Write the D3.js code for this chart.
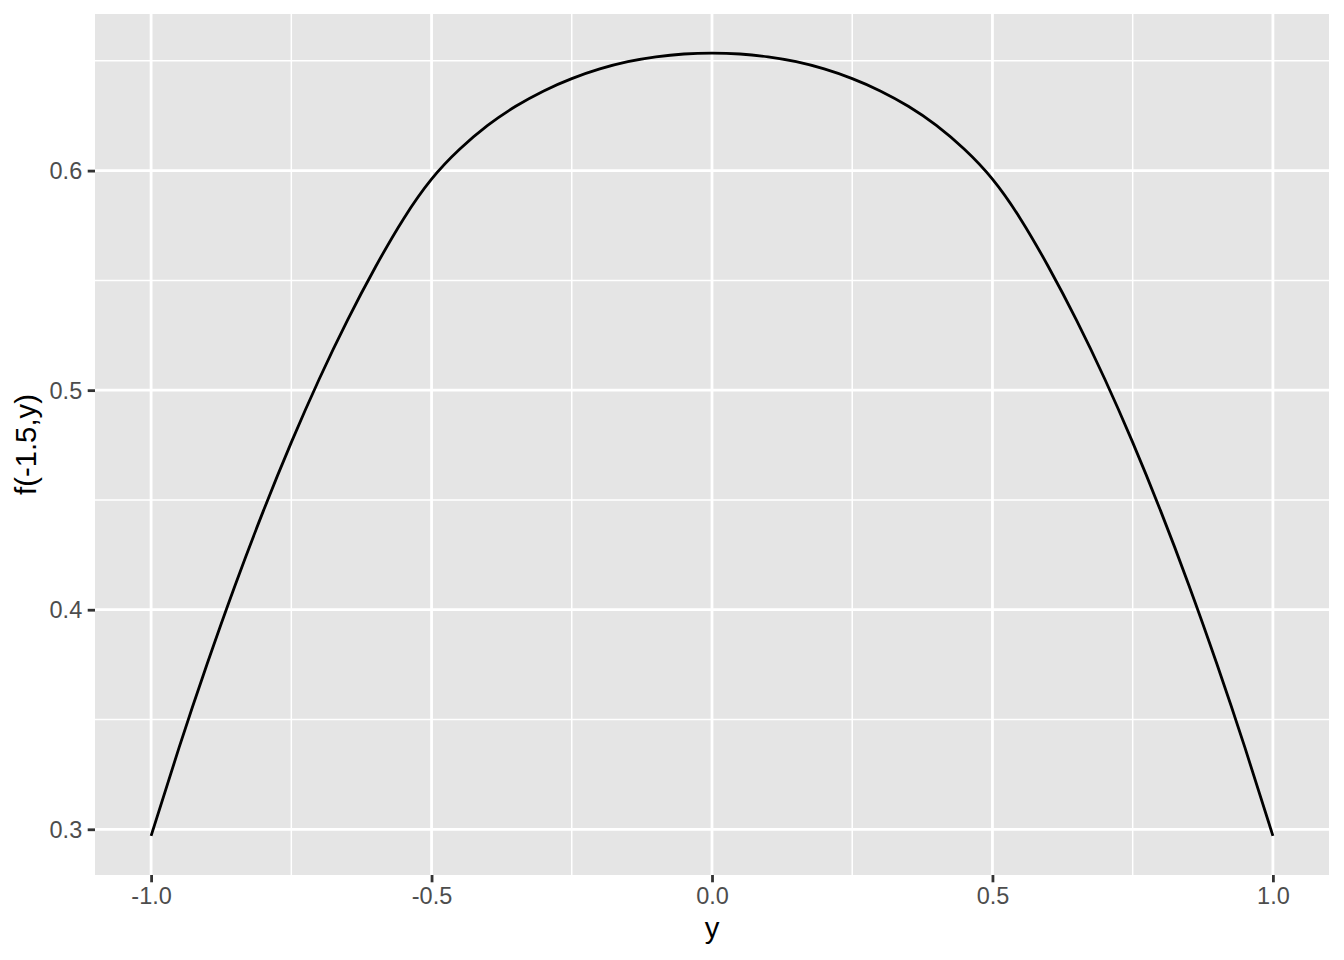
<!DOCTYPE html>
<html>
<head>
<meta charset="utf-8">
<script src="https://cdn.jsdelivr.net/npm/d3@7"></script>
<style>
	body { margin: 0; background: #fff; }
	svg { display: block; font-family: "Liberation Sans", Arial, Helvetica, sans-serif; }
</style>
</head>
<body>
<svg id="chart" width="1344" height="960"></svg>
<script>
"use strict";

// values, y from -1 to 1 in steps of 0.05
var y_values = [-1.00,-0.95,-0.90,-0.85,-0.80,-0.75,-0.70,-0.65,-0.60,-0.55,-0.50,-0.45,-0.40,-0.35,-0.30,-0.25,-0.20,-0.15,-0.10,-0.05,
	0.00,0.05,0.10,0.15,0.20,0.25,0.30,0.35,0.40,0.45,0.50,0.55,0.60,0.65,0.70,0.75,0.80,0.85,0.90,0.95,1.00];
var f_values = [0.2970,0.3373,0.3754,0.4113,0.4449,0.4762,0.5052,0.5318,0.5561,0.5780,0.5961,0.6097,0.6206,0.6293,0.6363,0.6419,0.6463,0.6496,0.6518,0.6531,
	0.6535,0.6531,0.6518,0.6496,0.6463,0.6419,0.6363,0.6293,0.6206,0.6097,0.5961,0.5780,0.5561,0.5318,0.5052,0.4762,0.4449,0.4113,0.3754,0.3373,0.2970];

var x_ticks = [-1.0, -0.5, 0.0, 0.5, 1.0],
	x_minor = [-0.75, -0.25, 0.25, 0.75],
	y_ticks = [0.3, 0.4, 0.5, 0.6],
	y_minor = [0.35, 0.45, 0.55, 0.65];

var x_title = "y",
	y_title = "f(-1.5,y)";

var width = 1344,
	height = 960,
	margin = { top: 14, right: 15, bottom: 85, left: 95 };

var svg = d3.select("#chart");

// ggplot style 5% expansion on both axes
function expand(ext) {
	var pad = (ext[1] - ext[0]) * 0.05;
	return [ext[0] - pad, ext[1] + pad];
}

var x = d3.scaleLinear()
	.domain(expand(d3.extent(y_values)))
	.range([margin.left, width - margin.right]);

var y = d3.scaleLinear()
	.domain(expand(d3.extent(f_values)))
	.range([height - margin.bottom, margin.top]);

var data = y_values.map(function(d, i) { return { x: d, f: f_values[i] }; });

//panel background
svg.append("rect")
	.attr("x", margin.left)
	.attr("y", margin.top)
	.attr("width", width - margin.left - margin.right)
	.attr("height", height - margin.top - margin.bottom)
	.attr("fill", "#E5E5E5");

//grid lines, minor first
var grid = svg.append("g").attr("stroke", "#fff");

grid.selectAll(".vminor").data(x_minor).enter().append("line")
	.attr("x1", function(d) { return x(d); }).attr("x2", function(d) { return x(d); })
	.attr("y1", margin.top).attr("y2", height - margin.bottom)
	.attr("stroke-width", 1.5);

grid.selectAll(".hminor").data(y_minor).enter().append("line")
	.attr("y1", function(d) { return y(d); }).attr("y2", function(d) { return y(d); })
	.attr("x1", margin.left).attr("x2", width - margin.right)
	.attr("stroke-width", 1.5);

grid.selectAll(".vmajor").data(x_ticks).enter().append("line")
	.attr("x1", function(d) { return x(d); }).attr("x2", function(d) { return x(d); })
	.attr("y1", margin.top).attr("y2", height - margin.bottom)
	.attr("stroke-width", 2.8);

grid.selectAll(".hmajor").data(y_ticks).enter().append("line")
	.attr("y1", function(d) { return y(d); }).attr("y2", function(d) { return y(d); })
	.attr("x1", margin.left).attr("x2", width - margin.right)
	.attr("stroke-width", 2.8);

//the curve
var line = d3.line()
	.x(function(d) { return x(d.x); })
	.y(function(d) { return y(d.f); })
	.curve(d3.curveNatural);

svg.append("path")
	.datum(data)
	.attr("d", line)
	.attr("fill", "none")
	.attr("stroke", "#000")
	.attr("stroke-width", 2.8);

//axes, plain hyphen for negatives like R does
var fmt = function(d) { return d3.format(".1f")(d).replace("\u2212", "-"); };

var xAxis = d3.axisBottom(x)
	.tickValues(x_ticks)
	.tickFormat(fmt)
	.tickSize(7.3)
	.tickPadding(5);

var yAxis = d3.axisLeft(y)
	.tickValues(y_ticks)
	.tickFormat(fmt)
	.tickSize(7.3)
	.tickPadding(5.5);

var gx = svg.append("g")
	.attr("transform", "translate(0," + (height - margin.bottom) + ")")
	.call(xAxis);

var gy = svg.append("g")
	.attr("transform", "translate(" + margin.left + ",0)")
	.call(yAxis);

[gx, gy].forEach(function(g) {
	g.select(".domain").remove();
	g.selectAll(".tick line").attr("stroke", "#333333").attr("stroke-width", 2.8);
	g.selectAll(".tick text")
		.attr("fill", "#4D4D4D")
		.style("font-size", "23.5px")
		.style("font-family", "'Liberation Sans', Arial, sans-serif");
});

gx.selectAll(".tick text").attr("dy", "0.71em");
gy.selectAll(".tick text").attr("dy", "0.35em");

//axis titles
svg.append("text")
	.attr("x", (margin.left + width - margin.right) / 2)
	.attr("y", 938)
	.attr("text-anchor", "middle")
	.style("font-size", "29.3px")
	.attr("fill", "#000")
	.text(x_title);

svg.append("text")
	.attr("transform", "translate(36," + ((margin.top + height - margin.bottom) / 2) + ") rotate(-90)")
	.attr("text-anchor", "middle")
	.style("font-size", "29.3px")
	.attr("fill", "#000")
	.text(y_title);
</script>
</body>
</html>
